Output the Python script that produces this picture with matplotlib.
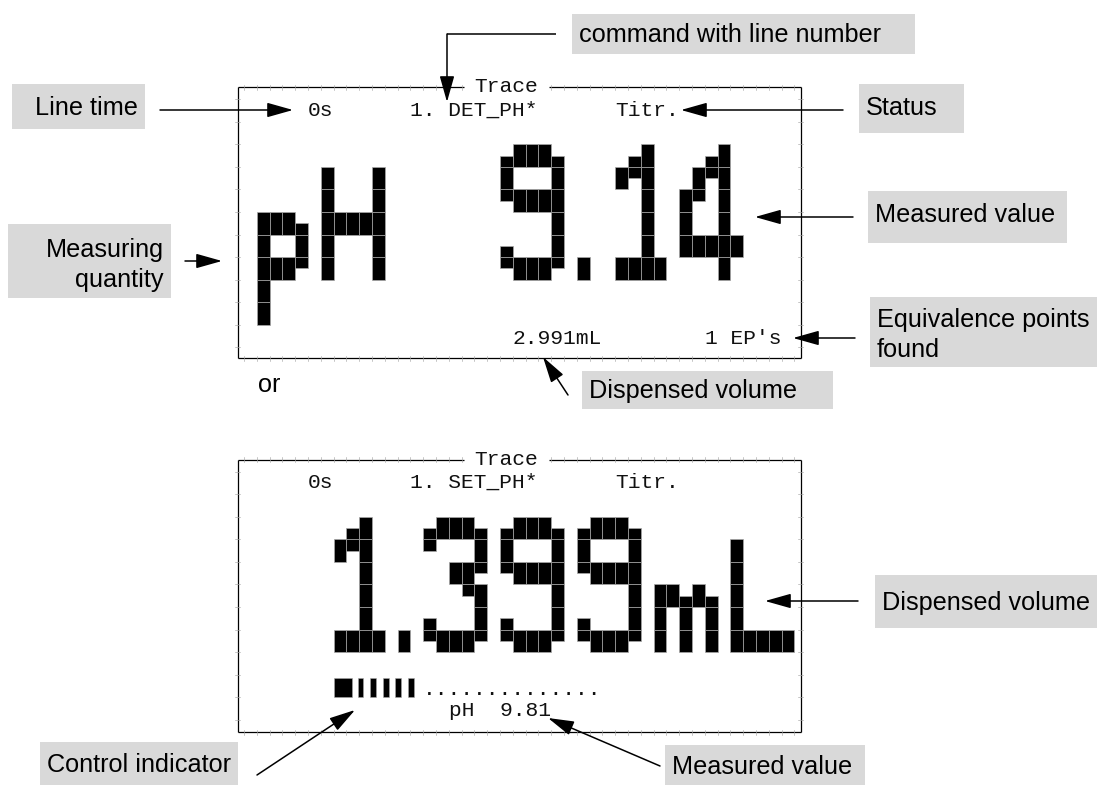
import matplotlib
matplotlib.use("Agg")
import matplotlib.pyplot as plt
from matplotlib.patches import Rectangle

# ---------------- data ----------------
FIG_W, FIG_H = 1097, 785

# LCD pixel grid (figure pixels)
LCD_X0 = 256.7      # left edge of LCD column 0
CELL_W = 12.8       # one LCD column
HALF_H = 11.28      # half of one LCD row

# big dot-matrix glyphs: rows are half-rows, '#' = lit
GLYPHS = {
    "9": [".###.", "#####", "#...#", "#...#", "#####", ".####",
          "....#", "....#", "....#", "#...#", "#####", ".###."],
    "1": ["..#..", ".##..", "###..", "#.#..", "..#..", "..#..",
          "..#..", "..#..", "..#..", "..#..", "####.", "####."],
    "4": ["...#.", "..##.", ".###.", ".#.#.", "##.#.", "#..#.",
          "#..#.", "#..#.", "#####", "#####", "...#.", "...#."],
    "3": [".###.", "#####", "#...#", "....#", "..###", "..##.",
          "...##", "....#", "....#", "#...#", "#####", ".###."],
    ".": [".", ".", ".", ".", ".", ".", ".", ".", ".", ".", "#", "#"],
    "p": ["....", "....", "....", "....", "....", "....",
          "###.", "####", "#..#", "#..#", "####", "###.",
          "#...", "#...", "#...", "#..."],
    "H": [".....", ".....", "#...#", "#...#", "#...#", "#...#",
          "#####", "#####", "#...#", "#...#", "#...#", "#...#"],
    "m": [".....", ".....", ".....", ".....", ".....", ".....",
          "##.#.", "#####", "#.#.#", "#.#.#", "#.#.#", "#.#.#"],
    "L": [".....", ".....", "#....", "#....", "#....", "#....",
          "#....", "#....", "#....", "#....", "#####", "#####"],
}

top_big_chars = ["p", "H", "9", ".", "1", "4"]
top_big_cols = [0, 5, 19, 25, 28, 33]
top_big_y0 = 144.3

bot_big_chars = ["1", ".", "3", "9", "9", "m", "L"]
bot_big_cols = [6, 11, 13, 19, 25, 31, 37]
bot_big_y0 = 516.7

# LCD display frames: (top y, bottom y); columns shared
frame_cols = (-1.5, 42.5)
frame_y = [(87.0, 358.0), (459.5, 732.0)]
trace_gap_cols = (16.2, 22.8)

# small LCD texts: (text, column, y)
top_lcd_texts = ["Trace", "0s", "1. DET_PH*", "Titr.", "2.991mL", "1 EP's"]
top_lcd_cols = [17, 4, 12, 28, 20, 35]
top_lcd_y = [87.0, 110.0, 110.0, 110.0, 338.0, 338.0]

bot_lcd_texts = ["Trace", "0s", "1. SET_PH*", "Titr.", "pH  9.81"]
bot_lcd_cols = [17, 4, 12, 28, 15]
bot_lcd_y = [459.5, 482.5, 482.5, 482.5, 710.0]

dots_text = "." * 14
dots_col = 13
dots_baseline = 695.0

# control indicator segments (start column, width in columns)
ind_starts = [6.0, 7.9, 8.88, 9.86, 10.84, 11.82]
ind_widths = [1.44, 0.44, 0.44, 0.44, 0.44, 0.44]
ind_y = (678.0, 697.0)

# grey annotation labels
label_texts = ["command with line number", "Line time", "Status",
               "Measuring\nquantity", "Measured value",
               "Equivalence points\nfound", "Dispensed volume",
               "Dispensed volume", "Control indicator", "Measured value"]
label_boxes = [(572, 14, 915, 54), (12, 84, 145, 129), (859, 84, 964, 133),
               (8, 224, 171, 298), (868, 191, 1067, 243),
               (870, 297, 1097, 367), (582, 371, 833, 409),
               (875, 575, 1097, 628), (40, 742, 238, 785),
               (665, 745, 865, 785)]
label_align = ["left", "right", "left", "right", "left", "left", "left",
               "left", "left", "left"]
label_baseline = [42, 115, 115, 257, 222, 327, 398, 610, 772, 774]
LABEL_STEP = 30

# arrows: (tail, tip)
arrow_tails = [(447, 34), (160, 110), (843, 110), (185, 261), (853, 217),
               (855, 338), (568, 395), (858, 601), (257, 775), (660, 766)]
arrow_tips = [(447, 102), (293, 110), (681, 110), (222, 261), (755, 217),
              (793, 338), (543, 357), (765, 601), (355, 710), (548, 718)]
elbow_line = [(556, 34), (447, 34)]

# ---------------- drawing ----------------
fig = plt.figure(figsize=(FIG_W / 100, FIG_H / 100), dpi=100)
ax = fig.add_axes([0, 0, 1, 1])
ax.set_xlim(0, FIG_W)
ax.set_ylim(FIG_H, 0)
ax.axis("off")

MONO = ["Liberation Mono", "DejaVu Sans Mono"]
SANS = ["Liberation Sans", "DejaVu Sans"]


def colx(c):
    return LCD_X0 + c * CELL_W


def draw_glyph(ch, col, y0):
    rows = GLYPHS[ch]
    ncol = len(rows[0])
    for c in range(ncol):
        for k in range(len(rows) // 2):
            a = rows[2 * k][c] == "#"
            b = rows[2 * k + 1][c] == "#"
            if a and b:
                ys, hh = y0 + 2 * k * HALF_H, 2 * HALF_H
            elif a:
                ys, hh = y0 + 2 * k * HALF_H, HALF_H
            elif b:
                ys, hh = y0 + (2 * k + 1) * HALF_H, HALF_H
            else:
                continue
            ax.add_patch(Rectangle((colx(col + c), ys), CELL_W, hh,
                                   facecolor="black", edgecolor="#a8a8a8",
                                   linewidth=0.5, zorder=3))


for ch, col in zip(top_big_chars, top_big_cols):
    draw_glyph(ch, col, top_big_y0)
for ch, col in zip(bot_big_chars, bot_big_cols):
    draw_glyph(ch, col, bot_big_y0)

# frames
xl, xr = colx(frame_cols[0]), colx(frame_cols[1])
gx0, gx1 = colx(trace_gap_cols[0]), colx(trace_gap_cols[1])
for (yt, yb), y0 in zip(frame_y, [top_big_y0, bot_big_y0]):
    kw = dict(color="black", lw=0.9, solid_capstyle="butt", zorder=2)
    ax.plot([xl, gx0], [yt, yt], **kw)
    ax.plot([gx1, xr], [yt, yt], **kw)
    ax.plot([xl, xr], [yb, yb], **kw)
    ax.plot([xl, xl], [yt, yb], **kw)
    ax.plot([xr, xr], [yt, yb], **kw)
    # faint LCD grid ticks along the frame
    k = -3
    while True:
        y = y0 + 2 * HALF_H * k
        k += 1
        if y <= yt + 3:
            continue
        if y >= yb - 3:
            break
        for x in (xl, xr):
            ax.plot([x - 2.5, x + 2.5], [y, y], color="#a5a5a5", lw=0.45, zorder=2.5)
    c = frame_cols[0] + 0.5
    while colx(c) < xr - 3:
        x = colx(c)
        ax.plot([x, x], [yb - 2.5, yb + 2.5], color="#a5a5a5", lw=0.45, zorder=2.5)
        if not (gx0 < x < gx1):
            ax.plot([x, x], [yt - 2.5, yt + 2.5], color="#a5a5a5", lw=0.45, zorder=2.5)
        c += 1

# small LCD texts
MONO_SIZE = 15.3
for t, c, y in zip(top_lcd_texts, top_lcd_cols, top_lcd_y):
    ax.text(colx(c), y, t, family=MONO, fontsize=MONO_SIZE, ha="left",
            va="center", color="#111111", zorder=4)
for t, c, y in zip(bot_lcd_texts, bot_lcd_cols, bot_lcd_y):
    ax.text(colx(c), y, t, family=MONO, fontsize=MONO_SIZE, ha="left",
            va="center", color="#111111", zorder=4)
ax.text(colx(dots_col), dots_baseline, dots_text, family=MONO,
        fontsize=MONO_SIZE, ha="left", va="baseline", color="#111111", zorder=4)

# control indicator
for s, w in zip(ind_starts, ind_widths):
    ax.add_patch(Rectangle((colx(s), ind_y[0]), w * CELL_W, ind_y[1] - ind_y[0],
                           facecolor="black", edgecolor="#a8a8a8", lw=0.4, zorder=3))

# grey labels
for txt, (x0, y0, x1, y1), al, bl in zip(label_texts, label_boxes, label_align,
                                          label_baseline):
    ax.add_patch(Rectangle((x0, y0), x1 - x0, y1 - y0, facecolor="#d9d9d9",
                           edgecolor="none", zorder=1))
    tx = x0 + 7 if al == "left" else x1 - 7
    for i, line in enumerate(txt.split("\n")):
        ax.text(tx, bl + i * LABEL_STEP, line, family=SANS, fontsize=18.2,
                ha=al, va="baseline", color="black", zorder=4)

ax.text(258, 392, "or", family=SANS, fontsize=18.2, ha="left", va="baseline",
        color="black", zorder=4)

# arrows
ax.plot([p[0] for p in elbow_line], [p[1] for p in elbow_line], color="black",
        lw=1.1, zorder=5, solid_capstyle="butt")
for tail, tip in zip(arrow_tails, arrow_tips):
    ax.annotate("", xy=tip, xytext=tail, zorder=5,
                arrowprops=dict(arrowstyle="-|>,head_length=1.6,head_width=0.45",
                                mutation_scale=10, lw=1.1, color="black",
                                shrinkA=0, shrinkB=0))

fig.savefig("out.png", dpi=100, facecolor="white")
